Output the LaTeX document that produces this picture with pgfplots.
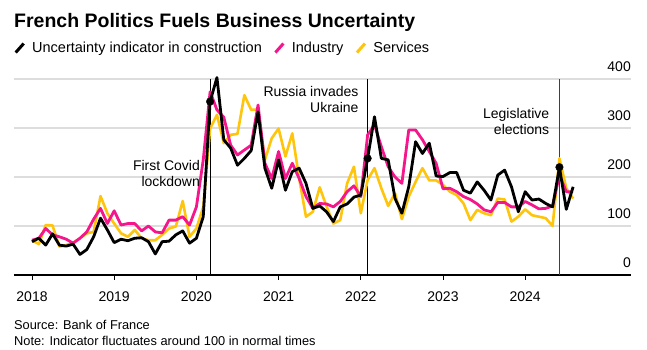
\documentclass[border=0pt]{standalone}
\usepackage{pgfplots}
\usepackage{pgfplotstable}
\pgfplotsset{compat=1.18}
\usepackage{fontspec}
\setmainfont{Liberation Sans}
\definecolor{cPink}{HTML}{F5168C}
\definecolor{cYellow}{HTML}{FFC40C}
\definecolor{cGrid}{HTML}{DDDDDD}

\pgfplotstableread{
m con ind ser
0 68 71 71
1 75 75 63
2 61 95 102
3 84 82 101
4 61 78 58
5 59 73 61
6 63 65 66
7 42 75 75
8 52 88 85
9 78 114 88
10 116 136 161
11 92 105 126
12 66 131 105
13 73 102 85
14 70 105 78
15 75 105 92
16 76 90 75
17 68 100 71
18 43 88 71
19 68 86 82
20 69 112 95
21 82 112 99
22 90 119 151
23 65 102 78
24 75 139 95
25 119 235 139
26 354 374 299
27 403 337 327
28 276 322 269
29 259 265 286
30 224 245 288
31 238 255 367
32 254 265 337
33 333 347 338
34 218 228 235
35 177 197 279
36 235 252 299
37 173 197 242
38 211 228 289
39 218 197 197
40 187 160 119
41 136 136 129
42 141 146 179
43 129 145 140
44 109 139 105
45 139 150 112
46 145 170 187
47 159 182 221
48 163 160 126
49 238 286 194
50 323 306 218
51 238 262 177
52 235 221 141
53 156 200 167
54 126 187 114
55 180 296 160
56 272 296 190
57 248 276 218
58 269 252 193
59 202 228 193
60 201 176 184
61 209 177 170
62 209 170 163
63 173 160 146
64 167 154 112
65 190 145 133
66 173 133 126
67 153 129 122
68 204 148 156
69 214 148 154
70 180 139 109
71 129 139 119
72 170 150 134
73 153 143 122
74 155 135 119
75 146 136 116
76 139 141 100
77 220 204 238
78 134 170 177
79 180 170 156
}\datatable

\begin{document}
\begin{tikzpicture}
\useasboundingbox (-14pt,-75pt) rectangle (633pt,275pt);
\begin{axis}[
  at={(0pt,0pt)}, anchor=south west,
  scale only axis, width=617pt, height=196pt,
  xmin=-2.63, xmax=87.45, ymin=0, ymax=400,
  clip=false,
  axis x line*=bottom, axis y line*=right,
  x axis line style={black, line width=1.1pt},
  y axis line style={draw=none},
  xtick={0,12,24,36,48,60,72},
  xticklabels={2018,2019,2020,2021,2022,2023,2024},
  ytick={0,100,200,300,400},
  tick align=outside, major tick length=5pt,
  xtick style={black, line width=0.8pt},
  ytick style={draw=none},
  ymajorgrids, grid style={cGrid, line width=1.2pt},
  xticklabel style={font=\fontsize{14}{16}\selectfont, yshift=-8pt},
  yticklabel style={font=\fontsize{14}{16}\selectfont, anchor=south east, inner sep=2pt, xshift=-3pt, yshift=5pt},
  /pgf/number format/assume math mode=true,
  legend style={draw=none, fill=none, inner sep=0pt, at={(0,1.158)}, anchor=west,
    font=\fontsize{14.5}{16}\selectfont,
    /tikz/every even column/.append style={column sep=10pt},
    /tikz/every odd column/.append style={column sep=5pt}},
  legend columns=-1,
  legend cell align=left,
  legend image code/.code={\draw[#1, line width=3pt] (0pt,-4.5pt) -- (8pt,4.5pt);},
]
\addlegendimage{black}
\addlegendentry{Uncertainty indicator in construction}
\addlegendimage{cPink}
\addlegendentry{Industry}
\addlegendimage{cYellow}
\addlegendentry{Services}

\addplot[black, line width=0.8pt, forget plot] coordinates {(26,0) (26,400)};
\addplot[black, line width=0.8pt, forget plot] coordinates {(49,0) (49,400)};
\addplot[black!75, line width=0.8pt, forget plot] coordinates {(77,0) (77,400)};

\addplot[cYellow, line width=2.6pt, line join=round, forget plot] table[x=m, y=ser] {\datatable};
\addplot[cPink, line width=2.8pt, line join=round, forget plot] table[x=m, y=ind] {\datatable};
\addplot[black, line width=2.8pt, line join=round, forget plot] table[x=m, y=con] {\datatable};

\addplot[only marks, mark=*, mark size=3.8pt, black, forget plot] coordinates {(26,354) (49,238) (77,220)};

\node[anchor=north east, align=right, inner sep=0pt, xshift=-10pt, font=\fontsize{14}{16}\selectfont] at (axis cs:26,235) {First Covid\\lockdown};
\node[anchor=north east, align=right, inner sep=0pt, xshift=-9pt, font=\fontsize{14}{16}\selectfont] at (axis cs:49,386) {Russia invades\\Ukraine};
\node[anchor=north east, align=right, inner sep=0pt, xshift=-10pt, font=\fontsize{14}{16}\selectfont] at (axis cs:77,341) {Legislative\\elections};
\end{axis}
\node[anchor=base west, inner sep=0pt, font=\bfseries\fontsize{19.5}{22}\selectfont] at (0pt,247pt) {French Politics Fuels Business Uncertainty};
\node[anchor=base west, inner sep=0pt, font=\fontsize{12.8}{15}\selectfont] at (0pt,-54pt) {Source: Bank of France};
\node[anchor=base west, inner sep=0pt, font=\fontsize{12.8}{15}\selectfont] at (0pt,-70pt) {Note: Indicator fluctuates around 100 in normal times};
\end{tikzpicture}
\end{document}
